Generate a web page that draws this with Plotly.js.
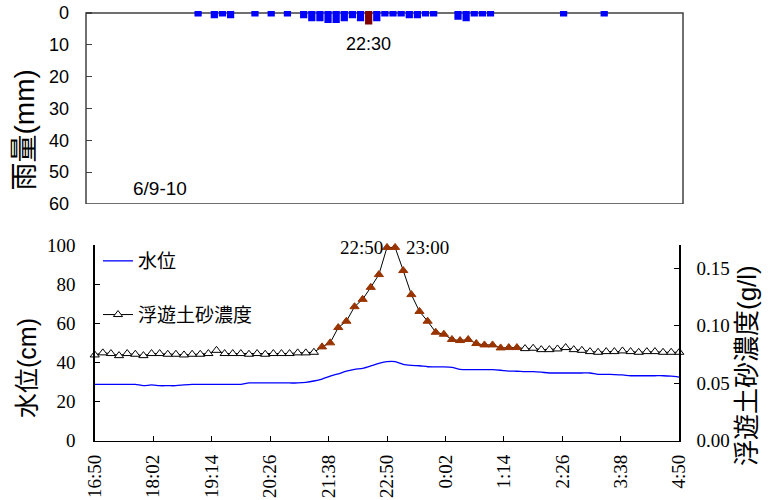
<!DOCTYPE html>
<html>
<head>
<meta charset="utf-8">
<script src="https://cdn.plot.ly/plotly-3.0.1.min.js"></script>
<style>html,body{margin:0;padding:0;background:#fff;}#chart{width:776px;height:500px;}</style>
</head>
<body>
<div id="chart"></div>
<script>
// ---- data ----
var startTime = '16:50';
var stepMinutes = 10;
var tickLabels = ['16:50','18:02','19:14','20:26','21:38','22:50','0:02','1:14','2:26','3:38','4:50'];

var rainTimes = ['19:00','19:20','19:30','19:40','20:10','20:30','20:50','21:10','21:20','21:30','21:40','21:50','22:00','22:10','22:20','22:30','22:40','22:50','23:00','23:10','23:20','23:30','23:40','23:50','0:20','0:30','0:40','0:50','1:00','2:30','3:20'];
var rainMm = [0.5,1.0,0.5,1.0,0.5,0.5,0.5,1.0,2.0,2.0,2.5,2.5,2.0,1.0,2.0,3.0,2.0,0.5,0.5,0.5,1.0,1.0,0.5,0.5,1.5,2.0,0.5,0.5,0.5,0.5,0.5];
var peakRainTime = '22:30';

var waterLevel = [28.8,28.8,28.8,28.8,28.8,28.8,28.1,28.5,28.1,28.1,28.1,28.5,28.8,28.8,28.8,28.8,28.8,28.8,28.8,29.5,29.5,29.5,29.5,29.5,29.5,29.5,29.8,30.5,31.5,33.0,34.2,35.5,36.5,37.0,38.2,39.5,40.4,40.4,39.0,38.5,38.3,37.8,37.7,37.7,37.5,36.5,36.3,36.3,36.3,36.3,36.0,35.6,35.5,35.3,35.3,35.0,34.6,34.6,34.6,34.6,34.6,34.6,33.9,33.9,33.8,33.6,33.2,33.2,33.2,33.2,33.2,33.0,32.5];

var sediment = [0.0745,0.0763,0.0757,0.0739,0.0757,0.0751,0.0739,0.0757,0.0757,0.0751,0.0751,0.0745,0.0751,0.0751,0.0757,0.0785,0.0757,0.0757,0.0757,0.0751,0.0757,0.0751,0.0757,0.0757,0.0757,0.0763,0.0763,0.0768,0.0815,0.0850,0.0983,0.1038,0.1164,0.1228,0.1332,0.1443,0.1679,0.1679,0.1478,0.1269,0.1123,0.1038,0.0942,0.0925,0.0879,0.0870,0.0879,0.0844,0.0832,0.0832,0.0806,0.0809,0.0809,0.0800,0.0803,0.0791,0.0791,0.0797,0.0809,0.0791,0.0785,0.0774,0.0768,0.0774,0.0774,0.0780,0.0774,0.0768,0.0774,0.0774,0.0768,0.0768,0.0768];
var sampledFrom = '21:30';
var sampledTo = '1:30';

// ---- helpers ----
function toMin(t){
  var p = t.split(':'), s = startTime.split(':');
  var v = (+p[0])*60 + (+p[1]) - ((+s[0])*60 + (+s[1]));
  if (v < 0) v += 1440;
  return v;
}
var tMin = sediment.map(function(_, i){ return i*stepMinutes; });
var rainX = rainTimes.map(toMin);
var rainColors = rainTimes.map(function(t){ return t === peakRainTime ? '#800000' : '#0000FF'; });
var sFrom = toMin(sampledFrom), sTo = toMin(sampledTo);
var sedFill = tMin.map(function(m){ return (m>=sFrom && m<=sTo) ? '#993300' : '#FFFFFF'; });
var sedEdge = tMin.map(function(m){ return (m>=sFrom && m<=sTo) ? '#993300' : '#000000'; });
var tickVals = tickLabels.map(toMin);
tickVals[tickVals.length-1] = 720;

var SANS = 'Liberation Sans, Arial, sans-serif';
var SERIF = 'Liberation Serif, Times New Roman, serif';
var CJK = 'Liberation Sans, Noto Sans CJK JP, sans-serif';

var traces = [
  {
    type:'bar', x: rainX, y: rainMm, xaxis:'x', yaxis:'y', width: 4,
    marker:{color: rainColors, line:{color: rainColors, width:4}},
    showlegend:false, hoverinfo:'x+y'
  },
  {
    type:'scatter', mode:'lines', name:'水位', x: tMin, y: waterLevel,
    xaxis:'x2', yaxis:'y2', line:{color:'#0000FF', width:1.3, shape:'spline', smoothing:0.6},
    legendgroup:'a'
  },
  {
    type:'scatter', mode:'lines+markers', name:'浮遊土砂濃度', x: tMin, y: sediment,
    xaxis:'x2', yaxis:'y3', line:{color:'#000000', width:1},
    marker:{symbol:'triangle-up', size:8, color: sedFill, line:{color: sedEdge, width:1}},
    cliponaxis:false, legendgroup:'b'
  }
];

var layout = {
  width:776, height:500,
  margin:{l:0, r:0, t:0, b:0},
  paper_bgcolor:'#fff', plot_bgcolor:'rgba(0,0,0,0)',
  showlegend:true,
  legend:{x:98/776, y:0.516, xanchor:'left', yanchor:'top', bgcolor:'rgba(0,0,0,0)',
          font:{family:'Noto Sans CJK JP, sans-serif', size:19, color:'#000'}, tracegroupgap:26, itemwidth:30},
  xaxis:{domain:[86/776, 683/776], anchor:'y', range:[-8,727], showticklabels:false, ticks:'',
         showgrid:false, zeroline:false, showline:false},
  yaxis:{domain:[(500-204)/500, (500-10.7)/500], anchor:'x', range:[60,-0.72],
         tickvals:[0,10,20,30,40,50,60], ticks:'inside', ticklen:6, tickcolor:'#404040', tickwidth:1.2,
         showgrid:false, zeroline:false, showline:false, ticklabelstandoff:16,
         tickfont:{family:SANS, size:18, color:'#000'}},
  xaxis2:{domain:[94.7/776, 679.3/776], anchor:'y2', range:[0,720], tickvals:tickVals, ticktext:tickLabels,
          tickangle:-90, ticks:'inside', ticklen:5, tickcolor:'#000', showline:true, linecolor:'#000', linewidth:1.5,
          showgrid:false, zeroline:false, ticklabelstandoff:5, tickfont:{family:SERIF, size:19, color:'#000'}},
  yaxis2:{domain:[(500-440.7)/500, (500-245)/500], anchor:'x2', range:[0,100], tickvals:[0,20,40,60,80,100],
          ticks:'inside', ticklen:5, tickcolor:'#000', showline:true, linecolor:'#000', linewidth:1.5,
          showgrid:false, zeroline:false, ticklabelstandoff:14, tickfont:{family:SERIF, size:19, color:'#000'}},
  yaxis3:{overlaying:'y2', side:'right', anchor:'x2', range:[0,0.17], tickvals:[0,0.05,0.10,0.15], tickformat:'.2f',
          ticks:'inside', ticklen:5, tickcolor:'#000', showline:true, linecolor:'#000', linewidth:1.5,
          showgrid:false, zeroline:false, ticklabelstandoff:12, tickfont:{family:SERIF, size:19, color:'#000'}},
  shapes:[
    {type:'rect', xref:'x domain', yref:'y', x0:0, x1:1, y0:0, y1:60, line:{color:'#404040', width:1.5}, layer:'below'}
  ],
  annotations:[
    {text:'雨量(mm)', xref:'paper', yref:'paper', x:23.5/776, y:(500-130)/500, xanchor:'center', yanchor:'middle',
     textangle:-90, showarrow:false, font:{family:CJK, size:28, color:'#000'}},
    {text:'水位(cm)', xref:'paper', yref:'paper', x:27/776, y:(500-368)/500, xanchor:'center', yanchor:'middle',
     textangle:-90, showarrow:false, font:{family:CJK, size:25, color:'#000'}},
    {text:'浮遊土砂濃度(g/l)', xref:'paper', yref:'paper', x:747/776, y:(500-366)/500, xanchor:'center', yanchor:'middle',
     textangle:-90, showarrow:false, font:{family:CJK, size:26, color:'#000'}},
    {text:'22:30', xref:'x', yref:'y', x:toMin('22:30'), y:9.7, xanchor:'center', yanchor:'middle', showarrow:false,
     font:{family:SANS, size:18, color:'#000'}},
    {text:'6/9-10', xref:'paper', yref:'paper', x:160/776, y:(500-188)/500, xanchor:'center', yanchor:'middle',
     showarrow:false, font:{family:SANS, size:19, color:'#000'}},
    {text:'22:50', xref:'x2', yref:'y3', x:toMin('22:50'), y:0.1679, xanchor:'right', yanchor:'middle', xshift:-2,
     showarrow:false, font:{family:SERIF, size:19, color:'#000'}},
    {text:'23:00', xref:'x2', yref:'y3', x:toMin('23:00'), y:0.1679, xanchor:'left', yanchor:'middle', xshift:9,
     showarrow:false, font:{family:SERIF, size:19, color:'#000'}}
  ]
};

Plotly.newPlot('chart', traces, layout, {staticPlot:true, displayModeBar:false});
</script>
</body>
</html>
